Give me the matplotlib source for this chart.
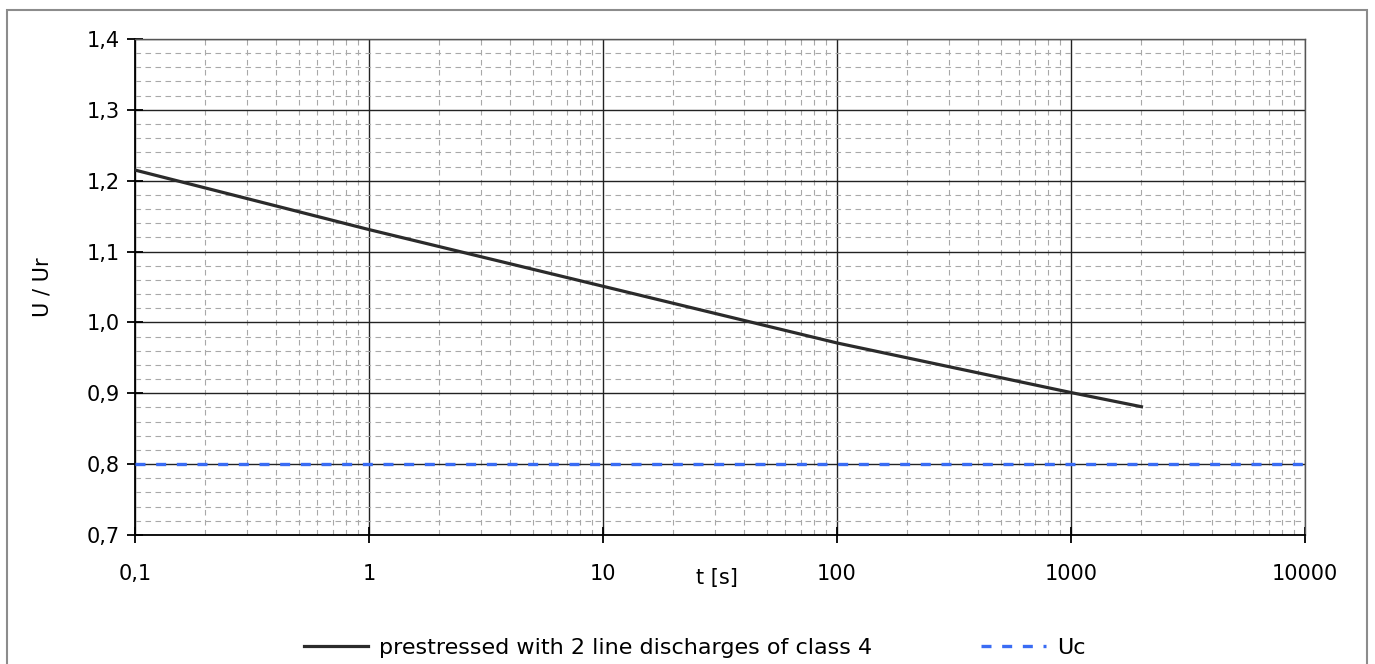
import matplotlib.pyplot as plt
from matplotlib.patches import Rectangle
from matplotlib.ticker import LogLocator, NullFormatter, MultipleLocator

plt.rcParams['font.family'] = ['DejaVu Sans']

# data
t_pre = [0.1, 1, 10, 100, 1000, 2000]
u_pre = [1.215, 1.131, 1.051, 0.971, 0.901, 0.881]
t_uc = [0.1, 10000]
u_uc = [0.8, 0.8]

x_ticks = [0.1, 1, 10, 100, 1000, 10000]
x_tick_labels = ['0,1', '1', '10', '100', '1000', '10000']
y_ticks = [0.7, 0.8, 0.9, 1.0, 1.1, 1.2, 1.3, 1.4]
y_tick_labels = ['0,7', '0,8', '0,9', '1,0', '1,1', '1,2', '1,3', '1,4']

fig = plt.figure(figsize=(13.75, 6.64), dpi=100)
ax = fig.add_axes([0.0982, 0.1943, 0.8509, 0.747])

# outer frame of the chart
fig.patches.append(Rectangle((0.005, -0.05), 0.989, 1.035, transform=fig.transFigure,
                             fill=False, edgecolor='#8c8c8c', linewidth=1.5))

ax.plot(t_pre, u_pre, color='#2b2b2b', linewidth=2.3,
        label='prestressed with 2 line discharges of class 4', zorder=3)
ax.plot(t_uc, u_uc, color='#3a6cf4', linewidth=2.4, dashes=(3, 3.2),
        label='Uc', zorder=3)

ax.set_xscale('log')
ax.set_xlim(0.1, 10000)
ax.set_ylim(0.7, 1.4)
ax.set_xticks(x_ticks)
ax.set_xticklabels(x_tick_labels)
ax.xaxis.set_minor_locator(LogLocator(base=10, subs=range(2, 10)))
ax.xaxis.set_minor_formatter(NullFormatter())
ax.set_yticks(y_ticks)
ax.set_yticklabels(y_tick_labels)
ax.yaxis.set_minor_locator(MultipleLocator(0.02))

ax.grid(which='major', color='#222222', linewidth=1.0, linestyle='-')
ax.grid(which='minor', color='#a8a8a8', linewidth=0.8, linestyle=(0, (5, 4)))
ax.set_axisbelow(True)

ax.tick_params(which='major', direction='inout', length=12, width=1.3,
               labelsize=15, colors='black')
ax.tick_params(axis='x', which='major', pad=15)
ax.tick_params(axis='y', which='major', pad=5)
ax.tick_params(which='minor', length=0)

for side in ['left', 'bottom']:
    ax.spines[side].set_color('black')
    ax.spines[side].set_linewidth(1.3)
for side in ['top', 'right']:
    ax.spines[side].set_color('#555555')
    ax.spines[side].set_linewidth(1.0)

ax.set_xlabel('t [s]', fontsize=15, va='center')
ax.xaxis.set_label_coords(0.497, -0.087)
ax.set_ylabel('U / Ur', fontsize=15, va='center')
ax.yaxis.set_label_coords(-0.079, 0.5)

fig.legend(loc='center', bbox_to_anchor=(0.505, 0.024), ncol=2, frameon=False,
           fontsize=16, handlelength=2.9, handletextpad=0.5, columnspacing=4.9)

fig.savefig('out.png', dpi=100)
